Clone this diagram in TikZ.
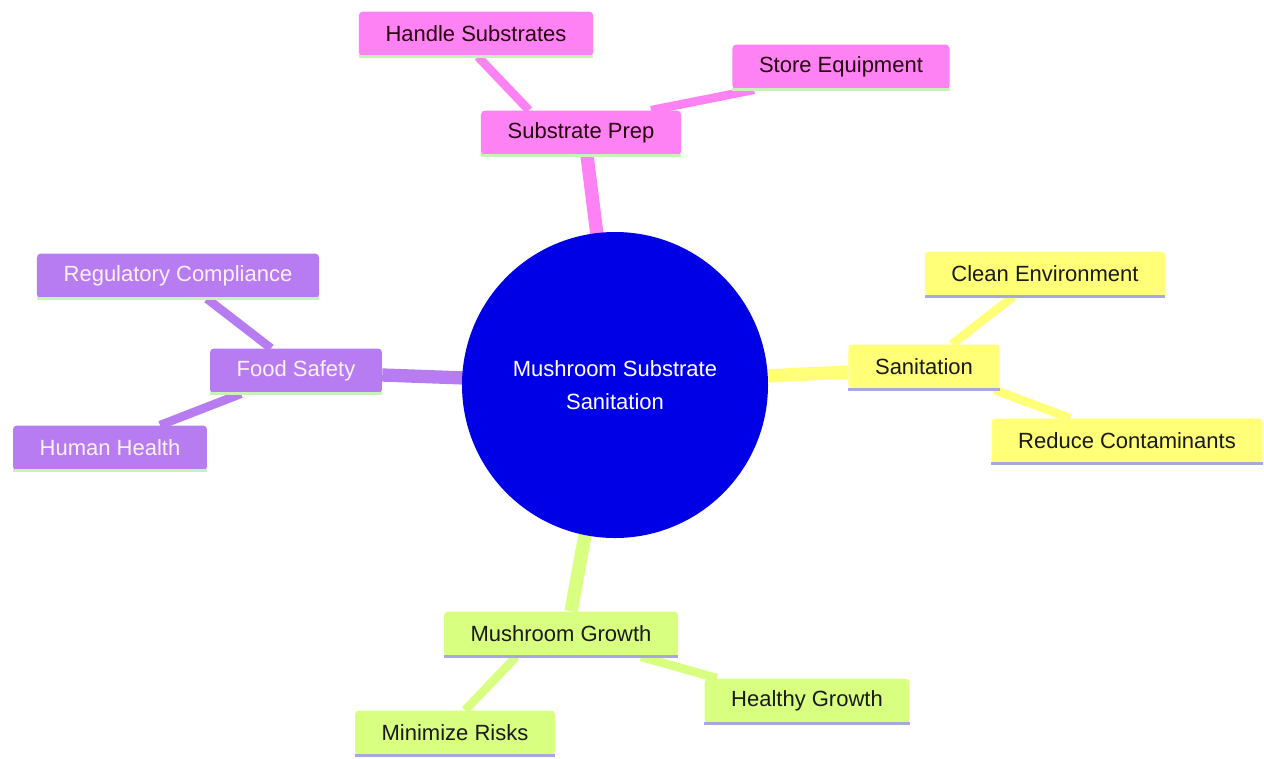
\documentclass[tikz,border=0pt]{standalone}
\usepackage{fontspec}
\setmainfont{Liberation Sans}
\usetikzlibrary{calc,backgrounds}
\definecolor{pinkc}{HTML}{FF82F5}
\definecolor{purplec}{HTML}{B87CF2}
\definecolor{yellowc}{HTML}{FFFF78}
\definecolor{greenc}{HTML}{D8FF80}
\definecolor{rootc}{HTML}{0000E6}
\definecolor{greenline}{HTML}{C8F2B8}
\definecolor{lavline}{HTML}{A8A8E0}
\tikzset{
  leaf/.style={rectangle, rounded corners=3pt, inner xsep=20pt, minimum height=33.75pt,
               font=\fontsize{16.5}{19}\selectfont},
  mainedge/.style={line width=10pt},
  subedge/.style={line width=6.5pt},
  underline/.style={line width=2.2pt}
}
\begin{document}
\begin{tikzpicture}[x=0.75pt,y=-0.75pt]
\useasboundingbox (0,0) rectangle (1264,758);
% center
\node[circle, fill=rootc, minimum size=229.5pt, text=white, align=center,
      font=\fontsize{16.5}{24.75}\selectfont] (root) at (615,385) {Mushroom Substrate\\Sanitation};
% substrate prep branch
\node[leaf, fill=pinkc, text=black!80!purple] (sp) at (581,133) {Substrate Prep};
\node[leaf, fill=pinkc, text=black!80!purple] (hs) at (476,34) {Handle Substrates};
\node[leaf, fill=pinkc, text=black!80!purple] (se) at (841,67) {Store Equipment};
% food safety branch
\node[leaf, fill=purplec, text=white!95!purple] (fs) at (296,371) {Food Safety};
\node[leaf, fill=purplec, text=white!95!purple] (rc) at (178,276) {Regulatory Compliance};
\node[leaf, fill=purplec, text=white!95!purple] (hh) at (110,448) {Human Health};
% sanitation branch
\node[leaf, fill=yellowc, text=black!90] (sn) at (924,367) {Sanitation};
\node[leaf, fill=yellowc, text=black!90] (ce) at (1045,274) {Clean Environment};
\node[leaf, fill=yellowc, text=black!90] (rd) at (1127,441) {Reduce Contaminants};
% growth branch
\node[leaf, fill=greenc, text=black!90] (mg) at (561,634) {Mushroom Growth};
\node[leaf, fill=greenc, text=black!90] (hg) at (807,701) {Healthy Growth};
\node[leaf, fill=greenc, text=black!90] (mr) at (455,733) {Minimize Risks};
% underlines
\foreach \n in {sp,hs,se,fs,rc,hh}
  \draw[underline, greenline] (\n.south west) -- (\n.south east);
\foreach \n in {sn,ce,rd,mg,hg,mr}
  \draw[underline, lavline] (\n.south west) -- (\n.south east);
\begin{pgfonlayer}{background}
\draw[mainedge, pinkc] ($(root.center)+(-18,-150)$) -- ($(sp.south)+(6,0)$);
\draw[subedge, pinkc] ($(hs.south)+(2,0)$) -- ($(sp.north)+(-52,0)$);
\draw[subedge, pinkc] ($(se.south west)+(22,0)$) -- ($(sp.north)+(70,0)$);
\draw[mainedge, purplec] ($(root.center)+(-150,-7)$) -- ($(fs.east)+(0,4)$);
\draw[subedge, purplec] ($(rc.south)+(29,0)$) -- ($(fs.north)+(-25,0)$);
\draw[subedge, purplec] ($(fs.south)+(-55,0)$) -- ($(hh.north)+(50,0)$);
\draw[mainedge, yellowc] ($(root.center)+(150,-9)$) -- ($(sn.west)+(0,5)$);
\draw[subedge, yellowc] ($(ce.south)+(-32,0)$) -- ($(sn.north)+(28,0)$);
\draw[subedge, yellowc] ($(sn.south)+(70,0)$) -- ($(rd.north)+(-57,0)$);
\draw[mainedge, greenc] ($(root.center)+(-30,150)$) -- ($(mg.north)+(10,0)$);
\draw[subedge, greenc] ($(mg.south)+(-45,0)$) -- ($(mr.north)+(10,0)$);
\draw[subedge, greenc] ($(mg.south)+(80,0)$) -- ($(hg.north)+(-90,0)$);
\end{pgfonlayer}
\end{tikzpicture}
\end{document}
